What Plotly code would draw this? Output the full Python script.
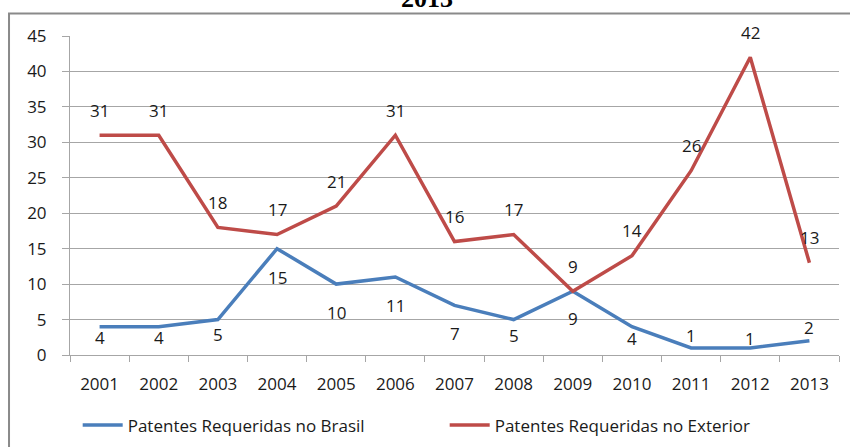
import plotly.graph_objects as go

years = ["2001", "2002", "2003", "2004", "2005", "2006", "2007",
         "2008", "2009", "2010", "2011", "2012", "2013"]
brasil = [4, 4, 5, 15, 10, 11, 7, 5, 9, 4, 1, 1, 2]
exterior = [31, 31, 18, 17, 21, 31, 16, 17, 9, 14, 26, 42, 13]
name_brasil = "Patentes Requeridas no Brasil"
name_exterior = "Patentes Requeridas no Exterior"
title_text = "<b>2013</b>"

# label vertical offsets in px (positive = up)
brasil_shift = [-11, -11, -15, -29, -28, -28, -28, -16, -27, -12, 12, 9, 13]
exterior_shift = [25] * 13

FONT = "Open Sans"
FS = 17
BLUE = "#4A7EBB"
RED = "#BE4B48"
GRID = "#A6A6A6"

fig = go.Figure()
fig.add_trace(go.Scatter(x=years, y=brasil, mode="lines", name=name_brasil,
                         line=dict(color=BLUE, width=3.5)))
fig.add_trace(go.Scatter(x=years, y=exterior, mode="lines", name=name_exterior,
                         line=dict(color=RED, width=3.5)))

for ys, shifts in [(brasil, brasil_shift), (exterior, exterior_shift)]:
    for i, (y, s) in enumerate(zip(ys, shifts)):
        fig.add_annotation(x=i, y=y, text=str(y), showarrow=False, yshift=s,
                           font=dict(family=FONT, size=FS, color="#1a1a1a"))

fig.add_annotation(xref="paper", yref="paper", x=0.464, y=1.116, text=title_text,
                   showarrow=False, yanchor="middle",
                   font=dict(family="Liberation Serif", size=26, color="#000000"))

fig.add_shape(type="rect", xref="paper", yref="paper",
              x0=-0.0793, y0=-0.5, x1=1.2, y1=1.0705,
              line=dict(color="#8A8A8A", width=2), layer="below")

fig.update_layout(
    width=850, height=447,
    margin=dict(l=70, r=11, t=36, b=92, autoexpand=False),
    paper_bgcolor="white", plot_bgcolor="white",
    font=dict(family=FONT, size=FS, color="#1a1a1a"),
    showlegend=True,
    legend=dict(orientation="h", x=0.010, y=-0.221, xanchor="left", yanchor="middle",
                font=dict(family=FONT, size=FS, color="#1a1a1a"),
                itemwidth=40, entrywidth=312, entrywidthmode="pixels",
                bgcolor="rgba(0,0,0,0)"),
)
fig.update_xaxes(type="category", range=[-0.5, 12.5], tickson="boundaries",
                 showgrid=False, showline=True, linecolor=GRID, linewidth=1,
                 ticks="outside", ticklen=6, tickcolor=GRID,
                 ticklabelstandoff=14, zeroline=False, automargin=False)
fig.update_yaxes(range=[0, 45], dtick=5, showgrid=True, gridcolor=GRID, gridwidth=1,
                 showline=True, linecolor=GRID, linewidth=1,
                 ticks="outside", ticklen=7, tickcolor=GRID,
                 ticklabelstandoff=12, zeroline=False, automargin=False)

fig.write_html("out.html", config={"displayModeBar": False},
               post_script="document.body.style.margin='0px';document.body.style.overflow='hidden';")
